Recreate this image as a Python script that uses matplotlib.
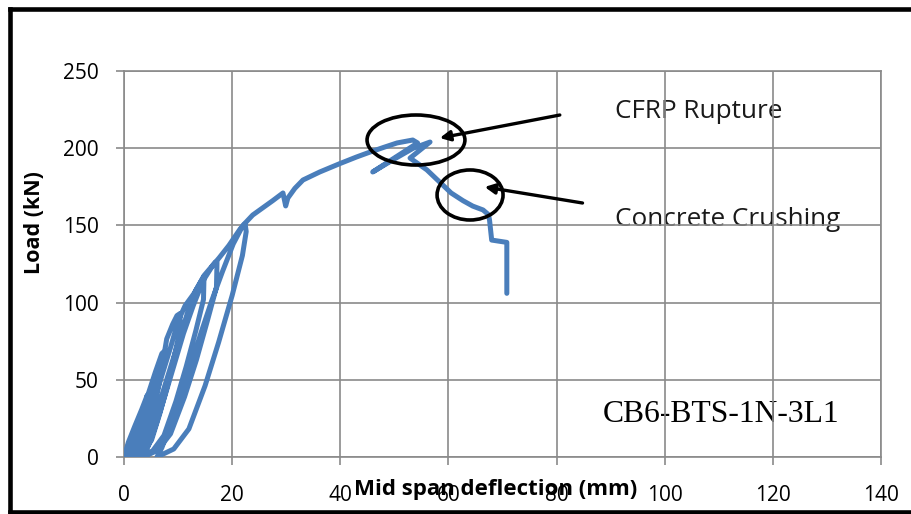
import matplotlib
matplotlib.use("Agg")
import matplotlib.pyplot as plt
from matplotlib.patches import Ellipse
from matplotlib.lines import Line2D

# Mid-span deflection (mm) and load (kN), in test order: load/unload
# cycles at rising peak loads, then the envelope up to failure.
deflection = [
    # cycle 1
    0.0, 0.8, 2.0, 3.3, 4.3, 3.8, 3.2, 2.6, 1.9, 1.2, 0.5,
    # cycle 2
    1.2, 2.2, 3.3, 4.4, 5.8, 7.0, 7.3, 7.2, 6.5, 5.7, 4.75, 3.65, 2.6, 1.4,
    # cycle 3
    2.3, 3.4, 4.7, 6.0, 7.2, 7.9, 9.0, 9.8, 10.4, 10.3, 9.3, 8.05, 6.7, 5.1, 3.6, 2.0,
    # cycle 4
    2.9, 4.2, 5.7, 7.2, 8.7, 10.0, 11.3, 12.9, 14.8, 14.7, 13.3, 11.5, 9.6, 7.4, 5.3, 3.0,
    # cycle 5
    4.0, 5.4, 7.0, 8.6, 10.2, 11.8, 13.3, 14.8, 16.9, 17.2, 17.1, 15.4, 13.4, 11.2, 8.6, 6.25, 3.6,
    # cycle 6
    4.6, 6.0, 7.6, 9.3, 11.0, 12.8, 14.6, 16.4, 17.6, 19.4, 21.5, 22.4,
    22.6, 21.9, 20.0, 17.5, 15.0, 12.0, 9.2, 6.1,
    # reload and envelope
    7.0, 8.5, 10.3, 12.2, 14.2, 16.2, 18.2, 20.2, 22.0,
    23.8, 25.5, 27.5, 29.4, 29.9, 30.3, 31.6, 33.1, 36.2, 39.9, 43.0, 45.5, 48.0,
    50.5, 53.4, 54.3, 46.0, 50.0, 53.5, 56.6, 52.9, 56.0, 58.4, 60.5, 62.7, 64.5,
    66.4, 67.4, 67.6, 68.0, 70.8, 70.8,
]
load = [
    # cycle 1
    0, 9.5, 20, 31, 40, 28, 20, 12.4, 4.8, 1.4, 0,
    # cycle 2
    6, 16, 28, 40, 55, 67, 68, 59, 47.6, 34, 21, 8.2, 2.4, 0,
    # cycle 3
    8, 20, 34, 48, 62, 76.5, 86, 91.6, 93, 81, 65, 46.5, 29, 11, 3.3, 0,
    # cycle 4
    8, 22, 38, 55, 72, 88, 98, 105.7, 117, 102, 82, 58.5, 36, 14, 4, 0,
    # cycle 5
    8, 22, 40, 58, 76, 94, 108, 117.5, 126.2, 126, 110, 88, 63, 39, 15, 4.4, 0,
    # cycle 6
    8, 22, 40, 60, 80, 98, 114, 124, 129, 137, 147.8, 151,
    146, 130.5, 104.6, 74.3, 46.2, 18.2, 5.2, 0,
    # reload and envelope
    6, 20, 38, 58, 80, 101, 120, 138, 150,
    156.7, 161, 166, 171, 162.6, 167.7, 174, 179.4, 184.6, 190, 194.3, 197.5, 200.5,
    203.4, 205.3, 203.4, 184.6, 193, 200, 204, 193.6, 186, 178, 171, 166, 162.5,
    160, 157, 153.5, 140.5, 139, 106,
]

x_ticks = [0, 20, 40, 60, 80, 100, 120, 140]
y_ticks = [0, 50, 100, 150, 200, 250]

specimen = "CB6-BTS-1N-3L1"
rupture_label = "CFRP Rupture"
crushing_label = "Concrete Crushing"

sans = ["Open Sans", "DejaVu Sans"]
grid_c = "#8a8a8a"
line_c = "#4a7ebb"

fig = plt.figure(figsize=(9.11, 5.14), dpi=100)
ax = fig.add_axes([124 / 911, 1 - 457 / 514, 757 / 911, 386 / 514])
ax.set_facecolor("none")

ax.plot(deflection, load, color=line_c, lw=3.6, solid_joinstyle="round",
        solid_capstyle="round", zorder=3)

ax.set_xlim(0, 140)
ax.set_ylim(0, 250)
ax.set_xticks(x_ticks)
ax.set_yticks(y_ticks)
ax.grid(True, color=grid_c, lw=1.2)
ax.set_axisbelow(True)
for s in ax.spines.values():
    s.set_color(grid_c)
    s.set_linewidth(1.2)
ax.tick_params(axis="both", color=grid_c, width=1.2, length=6, direction="out",
               labelsize=15)
ax.tick_params(axis="x", pad=14)
ax.tick_params(axis="y", pad=12)
for lab in ax.get_xticklabels() + ax.get_yticklabels():
    lab.set_family(sans)

fig.text(496 / 911, 1 - 489 / 514, "Mid span deflection (mm)", ha="center", va="center",
         fontsize=16, fontweight="bold", family=sans)
fig.text(35 / 911, 1 - 223 / 514, "Load (kN)", ha="center", va="center", rotation=90,
         fontsize=15.5, fontweight="bold", family=sans)

# Failure-mode call-outs
ax.add_patch(Ellipse((54.0, 205.3), 18.1, 32.4, fill=False, ec="black", lw=2.6, zorder=4))
ax.add_patch(Ellipse((64.0, 169.7), 12.2, 32.4, fill=False, ec="black", lw=2.6, zorder=4))
arrow = dict(arrowstyle="-|>,head_length=0.6,head_width=0.3", color="black", lw=2.4,
             shrinkA=0, shrinkB=0)
ax.annotate("", xy=(58.4, 206.6), xytext=(80.6, 221.5), arrowprops=arrow, zorder=4)
ax.annotate("", xy=(66.7, 174.9), xytext=(84.8, 164.5), arrowprops=arrow, zorder=4)

fig.text(615 / 911, 1 - 112 / 514, rupture_label, ha="left", va="center",
         fontsize=18.8, family=sans, color="#1a1a1a", zorder=-1)
fig.text(615 / 911, 1 - 220 / 514, crushing_label, ha="left", va="center",
         fontsize=18.8, family=sans, color="#1a1a1a", zorder=-1)
fig.text(603 / 911, 1 - 414 / 514, specimen, ha="left", va="center",
         fontsize=22.8, family=["Liberation Serif", "DejaVu Serif"], zorder=-1)

# Outer frame
for xs, ys in [([10 / 911, 1.05], [1 - 9 / 514] * 2),
               ([10 / 911] * 2, [1 - 9 / 514, 1 - 511.5 / 514]),
               ([10 / 911, 1.05], [1 - 511.5 / 514] * 2)]:
    fig.add_artist(Line2D(xs, ys, transform=fig.transFigure, color="black", lw=3.3))

fig.savefig("out.png", dpi=100)
